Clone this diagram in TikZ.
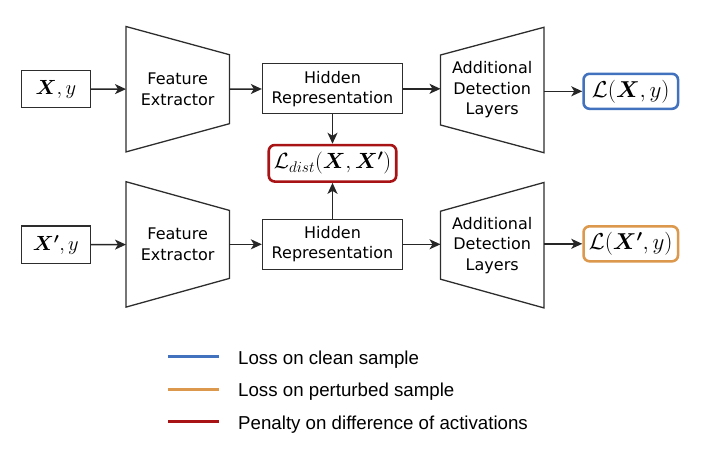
\documentclass[tikz,border=0pt]{standalone}
\usepackage{fix-cm}
\usepackage{amsmath}
\usepackage{bm}
\usepackage{fontspec}
\setmainfont{DejaVu Sans}
\newfontfamily\legendfont{Liberation Sans}
\usetikzlibrary{arrows.meta,calc}
\definecolor{cblue}{RGB}{66,114,190}
\definecolor{corange}{RGB}{220,152,76}
\definecolor{cred}{RGB}{168,20,22}
\definecolor{cline}{RGB}{45,45,45}
\begin{document}
\begin{tikzpicture}[x=1pt,y=-1pt,
  inbox/.style={draw=cline, line width=1.3pt, minimum width=69pt, minimum height=37.5pt, inner sep=0pt, font=\fontsize{20.5}{24}\selectfont},
  hidden/.style={draw=cline, line width=1.3pt, minimum width=140pt, minimum height=50pt, inner sep=0pt, align=center, font=\fontsize{16}{20}\selectfont},
  trap/.style={minimum width=103pt, minimum height=125pt, inner sep=0pt, align=center, font=\fontsize{16}{20.5}\selectfont},
  trapline/.style={draw=cline, line width=1.3pt, line join=miter},
  loss/.style={draw=#1, line width=2.6pt, rounded corners=6pt, minimum width=94.5pt, minimum height=35pt, inner sep=0pt, font=\fontsize{23}{27}\selectfont},
  arr/.style={-{Stealth[length=11pt,width=10pt,inset=3pt]}, line width=1.5pt, black!85},
  leg/.style={line width=3pt, draw=#1},
  legtext/.style={anchor=base west, font=\legendfont\fontsize{18.7}{22}\selectfont, inner sep=0pt}
]
\useasboundingbox (0,0) rectangle (720,458);

% top row
\node[inbox] (in1) at (55.8,89) {$\bm{X}, y$};
\node[trap] (fe1) at (177.7,89.2) {Feature\\Extractor};
\draw[trapline] (fe1.north west) -- ($(fe1.east)+(0,-34.5)$) -- ($(fe1.east)+(0,34.5)$) -- (fe1.south west) -- cycle;
\node[hidden] (hid1) at (332.5,88.8) {Hidden\\Representation};
\node[trap] (adl1) at (492.2,90) {Additional\\Detection\\Layers};
\draw[trapline] ($(adl1.west)+(0,-35)$) -- (adl1.north east) -- (adl1.south east) -- ($(adl1.west)+(0,35)$) -- cycle;
\node[loss=cblue] (loss1) at (630.8,91.3) {$\mathcal{L}(\bm{X}, y)$};

% distance
\node[loss=cred, minimum width=127.5pt, minimum height=36.5pt, font=\fontsize{22}{26}\selectfont] (dist) at (332.5,163.3) {$\mathcal{L}_{dist}(\bm{X}, \bm{X'})$};

% bottom row
\node[inbox] (in2) at (55.8,244.8) {$\bm{X'}, y$};
\node[trap] (fe2) at (177.7,244.4) {Feature\\Extractor};
\draw[trapline] (fe2.north west) -- ($(fe2.east)+(0,-34)$) -- ($(fe2.east)+(0,34)$) -- (fe2.south west) -- cycle;
\node[hidden] (hid2) at (332.5,244.3) {Hidden\\Representation};
\node[trap] (adl2) at (492.2,245.2) {Additional\\Detection\\Layers};
\draw[trapline] ($(adl2.west)+(0,-34)$) -- (adl2.north east) -- (adl2.south east) -- ($(adl2.west)+(0,34)$) -- cycle;
\node[loss=corange] (loss2) at (630.8,243.8) {$\mathcal{L}(\bm{X'}, y)$};

% arrows
\draw[arr] (in1) -- (fe1);
\draw[arr] (fe1) -- (hid1);
\draw[arr] (hid1) -- (adl1.west |- hid1);
\draw[arr] (adl1.east |- loss1) -- (loss1);
\draw[arr] (hid1) -- (dist);
\draw[arr] (in2) -- (fe2);
\draw[arr] (fe2.east |- hid2) -- (hid2);
\draw[arr] (hid2) -- (adl2.west |- hid2);
\draw[arr] (adl2.east |- loss2) -- (loss2);
\draw[arr] (hid2) -- (dist);

% legend
\coordinate (l1a) at (168,356); \coordinate (l1b) at (219,356);
\coordinate (l2a) at (168,389.3); \coordinate (l2b) at (219,389.3);
\coordinate (l3a) at (168,421.7); \coordinate (l3b) at (219,421.7);
\draw[leg=cblue] (l1a) -- (l1b);
\draw[leg=corange] (l2a) -- (l2b);
\draw[leg=cred] (l3a) -- (l3b);
\node[legtext] (t1) at (238,364.3) {Loss on clean sample};
\node[legtext] (t2) at (238,396.7) {Loss on perturbed sample};
\node[legtext] (t3) at (238,429.3) {Penalty on difference of activations};
\end{tikzpicture}
\end{document}
